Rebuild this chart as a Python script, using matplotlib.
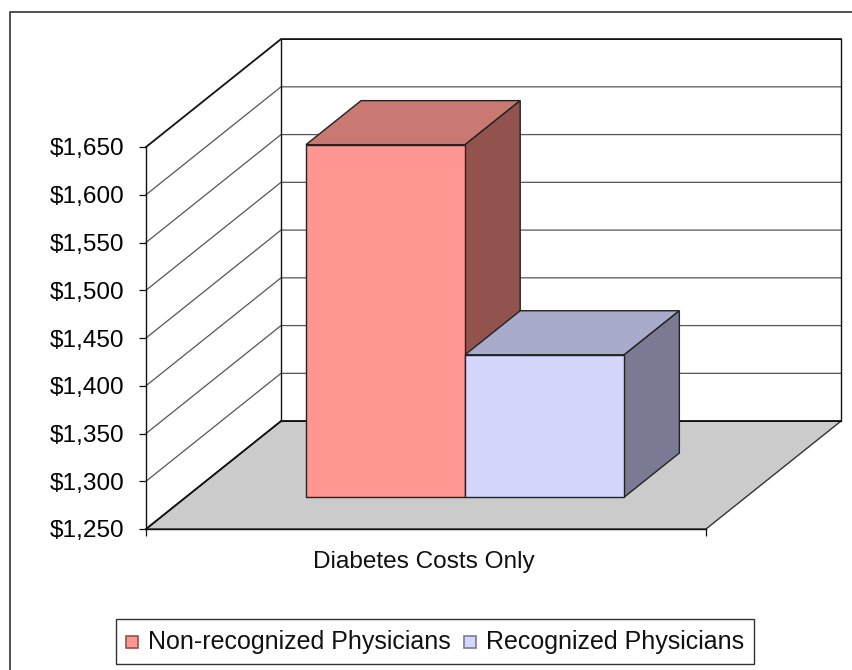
import matplotlib
matplotlib.use('Agg')
import matplotlib.pyplot as plt
from matplotlib.legend_handler import HandlerPatch
from matplotlib.lines import Line2D
from matplotlib.patches import Patch, Polygon, Rectangle

# ==========================================
# DATA
# ==========================================
CATEGORY = 'Diabetes Costs Only'
SERIES_NAMES = ['Non-recognized Physicians', 'Recognized Physicians']
SERIES_VALUES = [1619, 1399]
VALUE_TICKS = [1250, 1300, 1350, 1400, 1450, 1500, 1550, 1600, 1650]
TICK_LABELS = ['$1,250', '$1,300', '$1,350', '$1,400', '$1,450',
               '$1,500', '$1,550', '$1,600', '$1,650']

# colours: front, top, side
BAR_COLORS = [('#FF9691', '#C97872', '#92534F'),
              ('#D4D6FC', '#A8ABCA', '#7A7A94')]

# fake 3d: how far the back plane is shifted, in data units of the front plane
DEPTH_X = 135 / 560
DEPTH_Y = 113
BAR_WIDTH = 0.2842
BAR_START = 0.2143
BAR_D0 = 0.296
BAR_D1 = 0.704

plt.rcParams['font.family'] = ['Liberation Sans', 'DejaVu Sans']
plt.rcParams['font.size'] = 17.6
plt.rcParams['text.color'] = '#111111'


def pt(x, v, d):
    return (x + d * DEPTH_X, v + d * DEPTH_Y)


def face(ax, corners, color, edge='#222222', lw=1.0, z=3):
    ax.add_patch(Polygon([pt(*c) for c in corners], closed=True, facecolor=color,
                         edgecolor=edge, linewidth=lw, zorder=z, clip_on=False,
                         joinstyle='miter'))


def draw_box(ax, x0, x1, base, top, colors, z):
    front, roof, side = colors
    face(ax, [(x0, top, BAR_D0), (x1, top, BAR_D0), (x1, top, BAR_D1), (x0, top, BAR_D1)], roof, z=z)
    face(ax, [(x1, base, BAR_D0), (x1, base, BAR_D1), (x1, top, BAR_D1), (x1, top, BAR_D0)], side, z=z)
    face(ax, [(x0, base, BAR_D0), (x1, base, BAR_D0), (x1, top, BAR_D0), (x0, top, BAR_D0)], front, z=z)


def small_key(legend, orig_handle, xdescent, ydescent, width, height, fontsize):
    # square key, smaller than the row it sits in
    size = width
    return Rectangle((-xdescent, -ydescent + (height - size) / 2 - 0.5), size, size)


fig = plt.figure(figsize=(8.52, 6.70), dpi=100)
fig.patch.set_facecolor('white')
ax = fig.add_axes([146 / 852, 1 - 529 / 670, 560 / 852, 382 / 670])
ax.set_xlim(0, 1)
ax.set_ylim(VALUE_TICKS[0], VALUE_TICKS[-1])
ax.patch.set_visible(False)

# floor
lo, hi = VALUE_TICKS[0], VALUE_TICKS[-1]
face(ax, [(0, lo, 0), (1, lo, 0), (1, lo, 1), (0, lo, 1)], '#CBCBCB', edge='#333333', lw=1.0, z=1)

# gridlines along the side wall and the back wall
for v in VALUE_TICKS:
    xs, ys = zip(pt(0, v, 0), pt(0, v, 1), pt(1, v, 1))
    dark = v in (lo, hi)
    ax.plot(xs, ys, color='#111111' if dark else '#555555', lw=1.3 if dark else 0.9,
            zorder=2, clip_on=False, solid_joinstyle='miter')

# wall corners
for x in (0, 1):
    xs, ys = zip(pt(x, lo, 1), pt(x, hi, 1))
    ax.plot(xs, ys, color='#111111', lw=1.0, zorder=2, clip_on=False)

for i, (value, colors) in enumerate(zip(SERIES_VALUES, BAR_COLORS)):
    x0 = BAR_START + i * BAR_WIDTH
    draw_box(ax, x0, x0 + BAR_WIDTH, lo, value, colors, 3 + i)

# axes
for s in ('top', 'right'):
    ax.spines[s].set_visible(False)
for s in ('left', 'bottom'):
    ax.spines[s].set_linewidth(1.0)
    ax.spines[s].set_color('#111111')
    ax.spines[s].set_zorder(2.5)
ax.set_yticks(VALUE_TICKS)
ax.set_yticklabels(TICK_LABELS)
ax.set_xticks([0, 1])
ax.set_xticklabels(['', ''])
ax.tick_params(axis='both', length=5, width=0.9, color='#111111')
ax.tick_params(axis='y', pad=10.5)
ax.text(0.4955, -0.086, CATEGORY, transform=ax.transAxes, ha='center', va='center')

# chart frame runs off the right and bottom of the image
fig.add_artist(Line2D([10 / 852, 10 / 852, 1], [0, 1 - 12 / 670, 1 - 12 / 670],
                      color='#333333', lw=1.2))

handles = [Patch(facecolor=c[0], edgecolor=c[2], linewidth=1.2) for c in BAR_COLORS]
leg = fig.legend(handles, SERIES_NAMES, loc='center', ncol=2, fontsize=18,
                 bbox_to_anchor=(435 / 852, 1 - 641.5 / 670), fancybox=False,
                 framealpha=1, edgecolor='#333333', handlelength=0.48, handleheight=1.15,
                 handletextpad=0.4, columnspacing=0.55, borderpad=0.4, borderaxespad=0,
                 handler_map={Patch: HandlerPatch(patch_func=small_key)})
leg.get_frame().set_linewidth(1.0)

fig.savefig('out.png', dpi=100)
